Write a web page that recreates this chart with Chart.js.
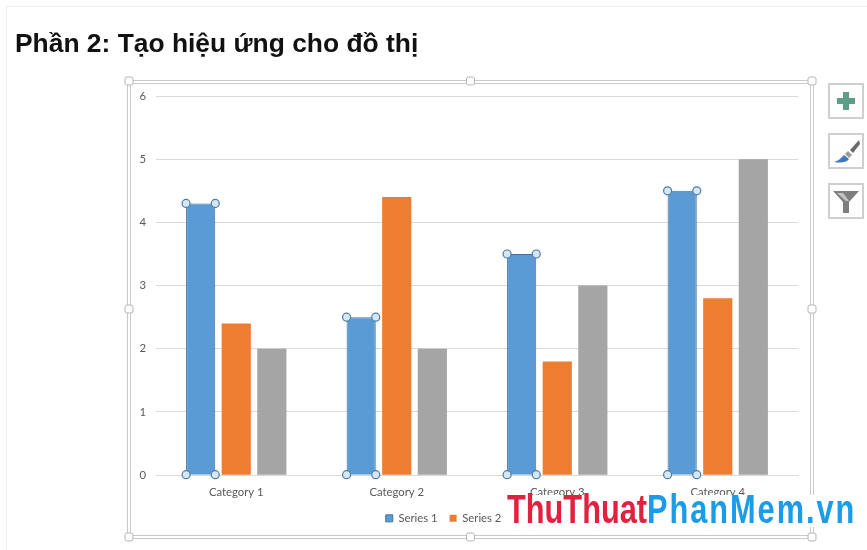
<!DOCTYPE html>
<html lang="vi">
<head>
<meta charset="utf-8">
<title>Phần 2: Tạo hiệu ứng cho đồ thị</title>
<script src="https://cdn.jsdelivr.net/npm/chart.js@4"></script>
<style>
    html, body { margin: 0; padding: 0; background: #fff; }
    #page { position: relative; width: 867px; height: 550px; overflow: hidden; filter: blur(0.35px); }
    #sheet { position: absolute; left: 6px; top: 6px; width: 880px; height: 560px; border: 1px solid #f0f0f0; }
    #heading { position: absolute; left: 15px; top: 28px; margin: 0; font: bold 26.4px "Liberation Sans", Arial, sans-serif; color: #111; white-space: nowrap; }
    #chart { position: absolute; left: 0; top: 0; }
    .side { position: absolute; left: 828px; width: 32px; height: 32px; border: 2px solid #cfcfcf; background: #fff; box-sizing: content-box; }
    .side svg { display: block; width: 32px; height: 32px; }
    #markBack { position: absolute; left: 506px; top: 495px; width: 352px; height: 32px; background: #fff; }
    #mark { position: absolute; left: 507px; top: 486px; font: bold 41px "Liberation Sans", sans-serif; white-space: nowrap; line-height: 46px; transform: scaleX(0.75); transform-origin: left top; }
    #mark .red { color: #e2203f; }
    #mark .blue { color: #1b9ce8; letter-spacing: 2.6px; }
</style>
</head>
<body>
<div id="page">
    <div id="sheet"></div>
    <h1 id="heading">Phần 2: Tạo hiệu ứng cho đồ thị</h1>
    <canvas id="chart" width="867" height="550"></canvas>
    <div class="side" style="top:83px"><svg viewBox="0 0 32 32"><path d="M13 7h6v6h6v6h-6v6h-6v-6H7v-6h6z" fill="#5f9e86"/></svg></div>
    <div class="side" style="top:133px"><svg viewBox="0 0 32 32"><path d="M29 5l-9 10 3 3 7-9z" fill="#6b6b6b"/><path d="M18 16l4 4-3 3-4-4z" fill="#9a9a9a"/><path d="M14 20l5 4c-3 4-9 4-15 3 4-1 6-3 10-7z" fill="#3f78bd"/></svg></div>
    <div class="side" style="top:183px"><svg viewBox="0 0 32 32"><path d="M3 6h26L19 17v11h-6V17z" fill="#7f7f7f"/><path d="M7 8h6l6 8h-3z" fill="#c4c4c4"/></svg></div>
    <div id="markBack"></div>
    <div id="mark"><span class="red">ThuThuat</span><span class="blue">PhanMem.vn</span></div>
</div>
<script>
const categories = ['Category 1', 'Category 2', 'Category 3', 'Category 4'];
const series1 = [4.3, 2.5, 3.5, 4.5];
const series2 = [2.4, 4.4, 1.8, 2.8];
const series3 = [2, 2, 3, 5];
const yTicks = [0, 1, 2, 3, 4, 5, 6];

const textColor = '#595959';
const gridColor = '#d9d9d9';
const labelFont = { family: 'Lato, sans-serif', size: 11.3 };

function drawHandle(ctx, x, y) {
    ctx.fillStyle = '#fff';
    ctx.strokeStyle = '#b5b5b5';
    ctx.lineWidth = 1;
    ctx.beginPath();
    ctx.roundRect(x - 4, y - 4, 8, 8, 2);
    ctx.fill();
    ctx.stroke();
}

// khung chon cua bieu do va cac diem tron tren series 1
const selectionPlugin = {
    id: 'selection',
    beforeDraw(chart) {
        // chu giai lech sang phai mot chut so voi vung ve
        chart.legend.left += 7;
        chart.legend.right += 7;
    },
    afterDraw(chart) {
        const ctx = chart.ctx;
        const box = { l: 129, t: 81, r: 812, b: 537 };
        ctx.save();
        ctx.strokeStyle = '#c9c9c9';
        ctx.lineWidth = 1;
        ctx.strokeRect(box.l - 1.5, box.t - 0.5, box.r - box.l + 3, box.b - box.t + 2);
        ctx.strokeRect(box.l + 1.5, box.t + 2.5, box.r - box.l - 3, box.b - box.t - 4);
        const midX = (box.l + box.r) / 2;
        const midY = (box.t + box.b) / 2;
        [[box.l, box.t], [midX, box.t], [box.r, box.t], [box.l, midY], [box.r, midY], [box.l, box.b], [midX, box.b], [box.r, box.b]]
            .forEach(p => drawHandle(ctx, p[0], p[1]));

        chart.getDatasetMeta(0).data.forEach(bar => {
            const half = bar.width / 2;
            [[bar.x - half, bar.y], [bar.x + half, bar.y], [bar.x - half, bar.base], [bar.x + half, bar.base]].forEach(p => {
                ctx.beginPath();
                ctx.arc(p[0], p[1], 4, 0, Math.PI * 2);
                ctx.fillStyle = '#d6e7f3';
                ctx.fill();
                ctx.strokeStyle = '#4a7ea6';
                ctx.lineWidth = 1.2;
                ctx.stroke();
            });
        });
        ctx.restore();
    }
};

const ctx = document.getElementById('chart').getContext('2d');
new Chart(ctx, {
    type: 'bar',
    data: {
        labels: categories,
        datasets: [
            { label: 'Series 1', data: series1, backgroundColor: '#5b9bd5', borderColor: '#41719c', borderWidth: 1 },
            { label: 'Series 2', data: series2, backgroundColor: '#ed7d31' },
            { label: 'Series 3', data: series3, backgroundColor: '#a5a5a5' }
        ]
    },
    options: {
        responsive: false,
        animation: false,
        categoryPercentage: 0.665,
        barPercentage: 0.82,
        layout: { padding: { left: 139, right: 69, top: 96, bottom: 16 } },
        scales: {
            y: {
                min: 0,
                max: 6,
                afterFit(axis) { axis.width = 17; },
                afterBuildTicks(axis) { axis.ticks = yTicks.map(v => ({ value: v })); },
                border: { display: false },
                grid: { color: gridColor, drawTicks: false },
                ticks: { color: textColor, padding: 10, font: labelFont }
            },
            x: {
                border: { color: gridColor },
                grid: { display: false },
                ticks: { color: textColor, padding: 2, maxRotation: 0, font: labelFont }
            }
        },
        plugins: {
            legend: {
                position: 'bottom',
                labels: {
                    color: textColor,
                    boxWidth: 7,
                    boxHeight: 7,
                    padding: 12,
                    font: labelFont
                }
            },
            tooltip: { enabled: false }
        }
    },
    plugins: [selectionPlugin]
});
</script>
</body>
</html>
